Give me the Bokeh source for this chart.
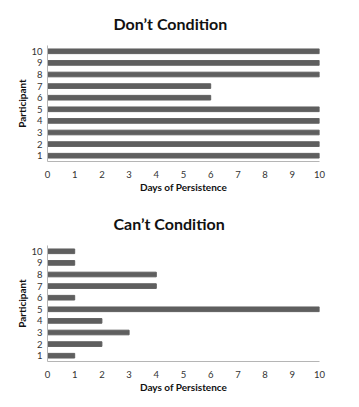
from bokeh.plotting import figure
from bokeh.layouts import column
from bokeh.models import Title, FixedTicker, Range1d
from bokeh.embed import file_html
from bokeh.resources import INLINE

participants = [1, 2, 3, 4, 5, 6, 7, 8, 9, 10]
dont_days = [10, 10, 10, 10, 10, 6, 6, 10, 10, 10]
cant_days = [1, 2, 3, 2, 10, 1, 4, 4, 1, 1]
x_ticks = [0, 1, 2, 3, 4, 5, 6, 7, 8, 9, 10]

titles = ["Don\u2019t Condition", "Can\u2019t Condition"]
series = [dont_days, cant_days]

FONT = "Lato"
BAR = "#5f5f5f"
AXIS = "#b5b5b5"


def make(title_text, days):
    p = figure(width=350, height=200, output_backend="svg", toolbar_location=None,
               x_range=Range1d(0, 10), y_range=Range1d(0.5, 10.5),
               min_border_left=47, min_border_right=31, min_border_top=45,
               min_border_bottom=39)
    p.title = None
    t = Title(text=title_text, align="left", offset=66, text_font=FONT,
              text_font_size="16px", text_font_style="bold", text_color="#111111",
              standoff=24, vertical_align="middle")
    p.add_layout(t, "above")
    p.hbar(y=participants, right=days, left=0, height=0.4, color=BAR)
    p.xgrid.visible = False
    p.ygrid.visible = False
    p.outline_line_color = None
    for ax in (p.xaxis[0], p.yaxis[0]):
        ax.axis_line_color = AXIS
        ax.axis_line_width = 1
        ax.major_tick_line_color = None
        ax.minor_tick_line_color = None
        ax.major_tick_out = 0
        ax.major_tick_in = 0
        ax.major_label_text_font = FONT
        ax.major_label_text_font_size = "9.5px"
        ax.major_label_text_color = "#333333"
        ax.axis_label_text_font = FONT
        ax.axis_label_text_font_style = "bold"
        ax.axis_label_text_font_size = "10px"
        ax.axis_label_text_color = "#111111"
    p.xaxis.ticker = FixedTicker(ticks=x_ticks)
    p.yaxis.ticker = FixedTicker(ticks=participants)
    p.xaxis.axis_label = "Days of Persistence"
    p.yaxis.axis_label = "Participant"
    p.xaxis.major_label_standoff = 9
    p.yaxis.major_label_standoff = 5
    p.xaxis.axis_label_standoff = 0
    p.yaxis.axis_label_standoff = 0
    p.background_fill_color = "white"
    p.border_fill_color = "white"
    return p


figs = [make(titles[i], series[i]) for i in range(2)]
layout = column(*figs, spacing=0)

open("out.html", "w").write(file_html(layout, INLINE))
